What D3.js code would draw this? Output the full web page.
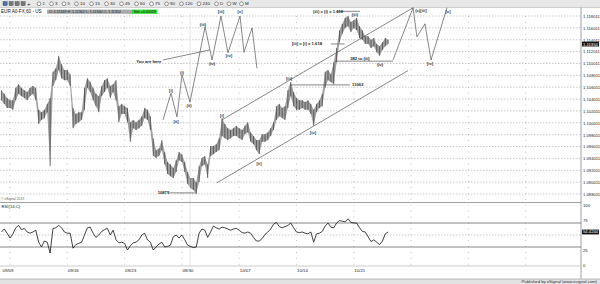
<!DOCTYPE html>
<html><head><meta charset="utf-8">
<script src="https://cdn.jsdelivr.net/npm/d3@7"></script>
<style>
html,body{margin:0;padding:0;background:#fff;}
svg{display:block;font-family:"Liberation Sans",Arial,sans-serif;}
</style></head><body>
<svg id="c" width="600" height="284"></svg>
<script>
// ---------- data ----------
const dateLabels = ["09/09","09/16","09/23","09/30","10/07","10/14","10/21"];
const dateDays = [0,5,10,15,20,25,30];
const priceTicks = [1.118011,1.116011,1.114011,1.112011,1.110011,1.108011,1.106011,1.104011,1.102011,1.100011,1.098011,1.096011,1.094011,1.092011,1.090011,1.088011];
const rsiTicks = [100,75,25,0];
const rsiBands = [70,30];
const rsiMid = [50];
const timeframes = ["1","3","5","10","15","30","45","60","75","90","120","240","D","W","M"];
const barsPerDay = 4;
const firstBarDay = -0.75;
const highs = [1.1055,1.1049,1.1042,1.1038,1.1038,1.1059,1.1065,1.1059,1.1055,1.1052,1.1059,1.1062,1.1059,1.1022,1.1018,1.1022,1.1032,1.1042,1.1086,1.1092,
1.1113,1.1099,1.1089,1.1089,1.1082,1.1025,1.1015,1.1018,1.1018,1.1059,1.1075,1.1069,1.1059,1.1049,1.1045,1.1062,1.1072,1.1075,1.1062,1.1065,
1.1072,1.1028,1.1032,1.1028,1.1025,1.1001,1.1005,1.1001,1.1005,1.1011,1.1025,1.1022,1.1011,1.0974,1.0954,1.0957,1.0971,1.0951,1.0934,1.0930,
1.0924,1.0937,1.0951,1.0947,1.0934,1.0917,1.0907,1.0907,1.0900,1.0927,1.0941,1.0944,1.0930,1.0961,1.0961,1.0964,1.0974,1.1008,1.0998,1.0991,
1.0988,1.0991,1.0995,1.0991,1.0988,1.0995,1.1001,1.0984,1.0978,1.0971,1.0971,1.0981,1.0981,1.0984,1.0991,1.1001,1.1028,1.1032,1.1025,1.1028,
1.1055,1.1069,1.1052,1.1042,1.1038,1.1038,1.1035,1.1038,1.1032,1.1022,1.1032,1.1038,1.1049,1.1086,1.1089,1.1082,1.1102,1.1126,1.1156,1.1167,
1.1177,1.1180,1.1170,1.1173,1.1177,1.1163,1.1156,1.1146,1.1146,1.1140,1.1143,1.1133,1.1129,1.1136,1.1143,1.1140];
const lows = [1.1038,1.1032,1.1025,1.1025,1.1022,1.1038,1.1049,1.1045,1.1042,1.1038,1.1045,1.1049,1.1038,1.0998,1.1005,1.1008,1.1018,1.0927,1.1062,1.1072,
1.1089,1.1075,1.1072,1.1072,1.1062,1.0991,1.0998,1.1001,1.1005,1.1022,1.1059,1.1052,1.1038,1.1028,1.1018,1.1045,1.1052,1.1059,1.1042,1.1052,
1.1038,1.1001,1.1015,1.1015,1.1001,1.0968,1.0991,1.0988,1.0991,1.0995,1.1008,1.1005,1.0988,1.0944,1.0941,1.0944,1.0954,1.0930,1.0914,1.0910,
1.0907,1.0917,1.0937,1.0934,1.0917,1.0897,1.0890,1.0887,1.0880,1.0900,1.0927,1.0930,1.0907,1.0944,1.0947,1.0951,1.0954,1.0978,1.0974,1.0971,
1.0974,1.0978,1.0978,1.0974,1.0971,1.0981,1.0984,1.0968,1.0964,1.0954,1.0947,1.0968,1.0968,1.0971,1.0978,1.0988,1.1005,1.1011,1.1008,1.1005,
1.1025,1.1045,1.1028,1.1022,1.1022,1.1025,1.1022,1.1022,1.1015,1.0995,1.1018,1.1025,1.1028,1.1059,1.1072,1.1069,1.1065,1.1102,1.1136,1.1150,
1.1160,1.1163,1.1153,1.1160,1.1156,1.1143,1.1140,1.1133,1.1133,1.1126,1.1129,1.1119,1.1113,1.1123,1.1129,1.1133];
const rsi = [55,60,53,45,52,62,66,59,61,55,53,55,58,38,30,40,38,20,61,62,
66,62,55,53,53,28,34,36,38,50,62,63,53,46,50,56,59,61,50,58,
42,37,38,36,25,32,37,38,42,50,53,42,38,25,30,35,38,30,31,33,
47,50,45,50,42,33,31,29,30,53,60,58,46,55,65,62,60,63,62,60,
58,60,61,58,54,53,55,53,46,40,40,44,51,55,60,68,71,64,62,64,
66,70,62,55,54,55,53,52,55,38,52,53,56,65,70,63,62,70,74,73,
72,77,71,70,70,62,56,55,47,39,42,38,34,40,52,55];
const lastPriceLabel = "1.11354";
const lastRsiLabel = "54.4244";
// wave annotations in (day, price)
const leftWave = [[13.35,1.1005],[14.05,1.1050],[14.57,1.1010],[15.01,1.1081],[15.71,1.1035],[17.02,1.1162],[17.63,1.1106],[18.41,1.1180],[19.02,1.1118],[20.07,1.1180],[20.42,1.1119],[21.12,1.1160],[21.55,1.1092]];
const rightWave = [[33.42,1.1106],[35.17,1.1194],[35.51,1.1145],[36.21,1.1167],[36.74,1.1106],[38.13,1.1194]];
const upperChannel = [[18.50,1.1005],[35.17,1.1194]];
const lowerChannel = [[18.06,1.0899],[34.73,1.1088]];
const hLines = [
  {from:24.43,to:29.67,price:1.1064},
  {from:28.36,to:33.42,price:1.1104},
  {from:28.0,to:29.2,price:1.1133},
  {from:28.53,to:30.54,price:1.1188},
  {from:13.96,to:16.14,price:1.0882}
];
const pointer = [[13.35,1.1106],[17.45,1.1123]];
const notes = [
  {t:"11062",d:29.85,p:1.1064,a:"start"},
  {t:"382 to (iii)",d:30.54,p:1.1108,a:"middle"},
  {t:"[iii] = [i] x 1.618",d:24.60,p:1.1133,a:"start"},
  {t:"(iii) = (i) x 1.618",d:26.44,p:1.1188,a:"start"},
  {t:"10879",d:13.90,p:1.0882,a:"end"},
  {t:"You are here",d:13.20,p:1.1104,a:"end"}
];
const waveLabels = [
  ["[i]",14.05,1.1055],["[ii]",14.49,1.1003],["(i)",15.01,1.1085],["(ii)",15.62,1.1030],
  ["(iii)",16.84,1.1166],["(iv)",17.63,1.1100],["[iii]",18.41,1.1187],["[iv]",19.11,1.1114],["[v]",20.07,1.1187],
  ["[i]",18.50,1.1012],["[ii]",21.73,1.0932],["[iii]",24.35,1.1075],["[iv]",26.44,1.0984],
  ["(iii)",30.10,1.1183],["(iv)",32.29,1.1099],
  ["(c)[iii]",35.85,1.1190],["[iv]",36.65,1.1100],["[v]",38.22,1.1188]
];
const cursorDay = 15.71;

// ---------- drawing ----------
const svg = d3.select("#c");
const plotR = 581;
const FONT = '"Liberation Sans",Arial,sans-serif';
const x = d3.scaleLinear().domain([0,30]).range([10,353.8]);
const y = d3.scaleLinear().domain([1.088011,1.118011]).range([194,16]);
const yr = d3.scaleLinear().domain([0,100]).range([265,205]);
const bx = i => x(firstBarDay + i/barsPerDay);

svg.append("rect").attr("width",600).attr("height",284).attr("fill","#fff");

// toolbar
svg.append("rect").attr("x",0).attr("y",0).attr("width",600).attr("height",7.5).attr("fill","#e8e8e8");
svg.append("line").attr("x1",0).attr("x2",600).attr("y1",7.5).attr("y2",7.5).attr("stroke","#b8b8b8").attr("stroke-width",0.6);
[3,9,15,21].forEach((px,k)=>{
  svg.append("rect").attr("x",px).attr("y",1.5).attr("width",4.2).attr("height",4.2)
    .attr("fill",k===0?"#4a6fa5":"#777").attr("stroke","#333").attr("stroke-width",0.3);
});
svg.append("text").attr("x",27).attr("y",6).attr("font-size",6).attr("fill","#222").text("+");
let cx = 37;
timeframes.forEach(t=>{
  svg.append("circle").attr("cx",cx+2).attr("cy",3.8).attr("r",1.9).attr("fill","#fff").attr("stroke","#333").attr("stroke-width",0.5);
  svg.append("text").attr("x",cx+5.5).attr("y",5.4).attr("font-size",4.4).attr("fill","#222").text(t);
  cx += 10 + 2.5*t.length;
});

// legend row
svg.append("text").attr("x",1).attr("y",13).attr("font-size",4.6).attr("fill","#111").text("EUR A0-FX,60 - US");
svg.append("rect").attr("x",47).attr("y",9.6).attr("width",85).attr("height",4.2).attr("fill","#a9a9a9");
svg.append("text").attr("x",49).attr("y",12.9).attr("font-size",3.6).attr("fill","#222")
  .text("O: 1.11349  H: 1.11362  L: 1.11340  C: 1.11354");
svg.append("rect").attr("x",132).attr("y",9.6).attr("width",25).attr("height",4.2).attr("fill","#2fd62f");
svg.append("text").attr("x",134).attr("y",12.9).attr("font-size",3.6).attr("fill","#111").text("Net +0.00029");

// main gridlines
const gMain = svg.append("g");
gMain.selectAll(".hg").data(priceTicks).join("line")
  .attr("x1",0).attr("x2",plotR).attr("y1",d=>y(d)).attr("y2",d=>y(d))
  .attr("stroke","#a8a8a8").attr("stroke-width",0.6).attr("stroke-dasharray","1.5,1.5");
const weekDays = d3.range(-5,55,5).filter(d=>x(d)>=0 && x(d)<plotR);
svg.selectAll(".vg").data(weekDays).join("line")
  .attr("x1",d=>x(d)).attr("x2",d=>x(d)).attr("y1",16).attr("y2",266)
  .attr("stroke","#999").attr("stroke-width",0.7).attr("stroke-dasharray","0.8,5.1");
svg.append("line").attr("x1",x(cursorDay)).attr("x2",x(cursorDay)).attr("y1",14).attr("y2",266)
  .attr("stroke","#d0d0d0").attr("stroke-width",0.6);

// price bars
const idx = d3.range(highs.length);
gMain.append("path").datum(idx)
  .attr("d", d3.area().x(i=>bx(i)).y0(i=>y(lows[i])).y1(i=>y(highs[i])))
  .attr("fill","#a0a0a0");
gMain.selectAll(".bar").data(idx).join("line")
  .attr("x1",i=>bx(i)).attr("x2",i=>bx(i)).attr("y1",i=>y(highs[i])).attr("y2",i=>y(lows[i]))
  .attr("stroke","#3a3a3a").attr("stroke-width",0.7);

// annotations
const lineGen = d3.line().x(d=>x(d[0])).y(d=>y(d[1]));
const annG = svg.append("g").attr("fill","none").attr("stroke","#555").attr("stroke-width",0.7);
[leftWave,rightWave,upperChannel,lowerChannel,pointer].forEach(p=>{
  annG.append("path").attr("d",lineGen(p));
});
hLines.forEach(h=>{
  annG.append("line").attr("x1",x(h.from)).attr("x2",x(h.to)).attr("y1",y(h.price)).attr("y2",y(h.price));
});
notes.forEach(n=>{
  svg.append("text").attr("x",x(n.d)).attr("y",y(n.p)).attr("dy","0.35em").attr("text-anchor",n.a)
    .attr("font-size",4.2).attr("font-weight","bold").attr("fill","#222").text(n.t);
});
waveLabels.forEach(w=>{
  svg.append("text").attr("x",x(w[1])).attr("y",y(w[2])).attr("dy","0.35em").attr("text-anchor","middle")
    .attr("font-size",4.2).attr("font-weight","bold").attr("fill","#333").text(w[0]);
});
svg.append("text").attr("x",1).attr("y",199.5).attr("font-size",3.4).attr("fill","#666").text("© eSignal 2019");

// price axis
svg.append("line").attr("x1",plotR).attr("x2",plotR).attr("y1",7.5).attr("y2",279).attr("stroke","#888").attr("stroke-width",0.8);
const ax = svg.append("g").attr("transform",`translate(${plotR},0)`)
  .call(d3.axisRight(y).tickValues(priceTicks).tickSize(0).tickPadding(2).tickFormat(d3.format(".6f")));
ax.select(".domain").remove();
ax.selectAll("text").attr("font-size",4.2).attr("fill","#222").attr("font-family",FONT);
const lastClose = lows[lows.length-1]*0.5 + highs[highs.length-1]*0.5;
const lpY = y(lastClose) + 2.2;
svg.append("rect").attr("x",plotR+1).attr("y",lpY-2.4).attr("width",17).attr("height",4.8).attr("fill","#111");
svg.append("text").attr("x",plotR+2).attr("y",lpY).attr("dy","0.35em").attr("font-size",4.2).attr("fill","#fff").text(lastPriceLabel);

// RSI pane
svg.append("line").attr("x1",0).attr("x2",plotR).attr("y1",202.5).attr("y2",202.5).attr("stroke","#777").attr("stroke-width",0.7);
svg.append("line").attr("x1",0).attr("x2",plotR).attr("y1",266).attr("y2",266).attr("stroke","#aaa").attr("stroke-width",0.6);
svg.selectAll(".band").data(rsiBands).join("line")
  .attr("x1",0).attr("x2",plotR).attr("y1",d=>yr(d)).attr("y2",d=>yr(d)).attr("stroke","#555").attr("stroke-width",0.7);
svg.selectAll(".mid").data(rsiMid).join("line")
  .attr("x1",0).attr("x2",plotR).attr("y1",d=>yr(d)).attr("y2",d=>yr(d))
  .attr("stroke","#aaa").attr("stroke-width",0.6).attr("stroke-dasharray","1.5,1.5");
svg.append("text").attr("x",1.5).attr("y",207.5).attr("font-size",4.2).attr("fill","#222").text("RSI(14,C)");
svg.append("path").datum(rsi)
  .attr("d", d3.line().x((d,i)=>bx(i)).y(d=>yr(d)))
  .attr("fill","none").attr("stroke","#111").attr("stroke-width",0.8);
const rax = svg.append("g").attr("transform",`translate(${plotR},0)`)
  .call(d3.axisRight(yr).tickValues(rsiTicks).tickSize(0).tickPadding(2).tickFormat(d3.format("d")));
rax.select(".domain").remove();
rax.selectAll("text").attr("font-size",4.2).attr("fill","#222").attr("font-family",FONT);
const lastR = rsi[rsi.length-1];
svg.append("rect").attr("x",plotR+1).attr("y",yr(lastR)-2.4).attr("width",17).attr("height",4.8).attr("fill","#111");
svg.append("text").attr("x",plotR+2).attr("y",yr(lastR)).attr("dy","0.35em").attr("font-size",4.2).attr("fill","#fff").text(lastRsiLabel);

// date axis
const dax = svg.append("g").attr("transform","translate(0,267)")
  .call(d3.axisBottom(x).tickValues(dateDays).tickSize(0).tickPadding(2).tickFormat((d,i)=>dateLabels[i]));
dax.select(".domain").remove();
dax.selectAll("text").attr("font-size",4.4).attr("fill","#222").attr("text-anchor","start")
  .attr("font-family",FONT)
  .attr("dx",(d,i)=>i===0?-8:0);

// footer
svg.append("rect").attr("x",0).attr("y",279).attr("width",600).attr("height",5).attr("fill","#e2e2e2");
svg.append("line").attr("x1",0).attr("x2",600).attr("y1",279).attr("y2",279).attr("stroke","#999").attr("stroke-width",0.6);
svg.append("text").attr("x",597).attr("y",283).attr("text-anchor","end").attr("font-size",4.2).attr("fill","#333")
  .text("Published by eSignal (www.esignal.com)");
</script>
</body></html>
